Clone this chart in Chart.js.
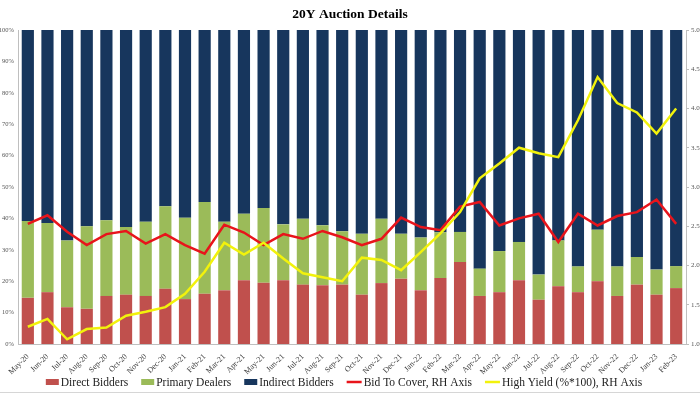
<!DOCTYPE html>
<html><head><meta charset="utf-8">
<script src="https://cdn.jsdelivr.net/npm/chart.js@4/dist/chart.umd.min.js"></script>
<style>html,body{margin:0;padding:0;background:#fff;}#wrap{width:700px;height:394px;position:relative;}</style>
</head><body><div id="wrap"><canvas id="c" width="700" height="394"></canvas></div>
<script>
const categories = ["May-20","Jun-20","Jul-20","Aug-20","Sep-20","Oct-20","Nov-20","Dec-20",
  "Jan-21","Feb-21","Mar-21","Apr-21","May-21","Jun-21","Jul-21","Aug-21","Sep-21","Oct-21","Nov-21","Dec-21",
  "Jan-22","Feb-22","Mar-22","Apr-22","May-22","Jun-22","Jul-22","Aug-22","Sep-22","Oct-22","Nov-22","Dec-22",
  "Jan-23","Feb-23"];
const directBidders = [14.7,16.5,11.7,11.2,15.3,15.7,15.3,17.6,14.3,16.0,17.1,20.3,19.5,20.3,18.9,18.7,18.9,15.7,19.4,20.8,17.1,21.0,26.1,15.3,16.5,20.3,14.1,18.4,16.5,20.0,15.3,18.9,15.7,17.8];
const primaryDealers = [24.5,22.0,21.3,26.3,24.1,21.6,23.6,26.3,25.9,29.2,21.8,21.2,23.8,17.8,21.0,19.1,17.0,19.4,20.5,14.3,16.8,14.6,9.6,8.7,13.1,12.2,8.0,14.6,8.2,16.4,9.4,8.8,8.0,7.0];
const indirectBidders = [60.8,61.5,67.0,62.5,60.6,62.7,61.1,56.1,59.8,54.8,61.1,58.5,56.7,61.9,60.1,62.2,64.1,64.9,60.1,64.9,66.1,64.4,64.3,76.0,70.4,67.5,77.9,67.0,75.3,63.6,75.3,72.3,76.3,75.2];
const bidToCover = [2.53,2.64,2.43,2.26,2.40,2.44,2.28,2.40,2.26,2.15,2.52,2.42,2.26,2.40,2.34,2.44,2.36,2.26,2.34,2.61,2.49,2.45,2.75,2.81,2.51,2.60,2.66,2.30,2.66,2.51,2.63,2.68,2.84,2.53];
const highYield = [1.22,1.32,1.06,1.19,1.21,1.36,1.41,1.47,1.64,1.92,2.29,2.14,2.29,2.09,1.90,1.85,1.80,2.10,2.07,1.94,2.17,2.41,2.68,3.11,3.30,3.50,3.43,3.38,3.85,4.40,4.07,3.95,3.68,4.00];

const legendPlugin = {
  id: 'customLegend',
  afterDraw(chart) {
    const ctx = chart.ctx;
    ctx.save();
    ctx.font = '11.5px "Liberation Serif"';
    ctx.textBaseline = 'middle';
    const items = chart.data.datasets.map(ds => ({
      label: ds.label,
      color: ds.type === 'line' ? ds.borderColor : ds.backgroundColor,
      isLine: ds.type === 'line'
    }));
    const boxW = 13, lineW = 15, gapBT = 2, gapItem = 13;
    const ws = items.map(it => (it.isLine ? lineW : boxW) + gapBT + ctx.measureText(it.label).width);
    const total = ws.reduce((a, b) => a + b, 0) + gapItem * (items.length - 1);
    let x = 344 - total / 2;
    const y = 382;
    items.forEach((it, i) => {
      if (it.isLine) {
        ctx.strokeStyle = it.color; ctx.lineWidth = 2.5;
        ctx.beginPath(); ctx.moveTo(x, y); ctx.lineTo(x + lineW, y); ctx.stroke();
        x += lineW + gapBT;
      } else {
        ctx.fillStyle = it.color;
        ctx.fillRect(x, y - 3, boxW, 6);
        x += boxW + gapBT;
      }
      ctx.fillStyle = '#222';
      ctx.fillText(it.label, x, y + 0.5);
      x += ctx.measureText(it.label).width + gapItem;
    });
    ctx.strokeStyle = '#D6D6D6'; ctx.lineWidth = 1;
    ctx.beginPath(); ctx.moveTo(0, 392.5); ctx.lineTo(700, 392.5); ctx.stroke();
    ctx.restore();
  }
};

const tickFont = { family: '"Liberation Serif"', size: 7 };

new Chart(document.getElementById('c'), {
  data: {
    labels: categories,
    datasets: [
      { type: 'bar', label: 'Direct Bidders', data: directBidders, backgroundColor: '#C0504D', yAxisID: 'y', order: 2, barPercentage: 0.62, categoryPercentage: 1 },
      { type: 'bar', label: 'Primary Dealers', data: primaryDealers, backgroundColor: '#9BBB59', yAxisID: 'y', order: 2, barPercentage: 0.62, categoryPercentage: 1 },
      { type: 'bar', label: 'Indirect Bidders', data: indirectBidders, backgroundColor: '#17365D', yAxisID: 'y', order: 2, barPercentage: 0.62, categoryPercentage: 1 },
      { type: 'line', label: 'Bid To Cover, RH Axis', data: bidToCover, borderColor: '#E8141B', borderWidth: 2.5, pointRadius: 0, tension: 0, yAxisID: 'y1', order: 1, stack: 'l1' },
      { type: 'line', label: 'High Yield (%*100), RH Axis', data: highYield, borderColor: '#F2F20C', borderWidth: 2.5, pointRadius: 0, tension: 0, yAxisID: 'y1', order: 0, stack: 'l2' }
    ]
  },
  options: {
    responsive: false,
    animation: false,
    devicePixelRatio: 1,
    layout: { padding: 0 },
    plugins: {
      legend: { display: false },
      tooltip: { enabled: false },
      title: {
        display: true, text: '20Y Auction Details', color: '#000',
        font: { family: '"Liberation Serif"', size: 13.5, weight: 'bold', lineHeight: 1.2 },
        padding: { top: 6, bottom: 7.8 }
      }
    },
    scales: {
      x: {
        stacked: true,
        grid: { display: false },
        border: { display: true, color: '#BFBFBF' },
        ticks: { autoSkip: false, minRotation: 45, maxRotation: 45, color: '#404040', font: { family: '"Liberation Serif"', size: 8 }, padding: 0 },
        afterFit(s) { s.height = 50; }
      },
      y: {
        position: 'left', stacked: true, min: 0, max: 100,
        grid: { display: false, drawTicks: false, tickLength: 0 },
        border: { display: true, color: '#BFBFBF' },
        ticks: { stepSize: 10, color: '#555', font: { family: '"Liberation Serif"', size: 6.5 }, padding: 4, callback: v => v + '%' },
        afterFit(s) { s.width = 18; }
      },
      y1: {
        position: 'right', stacked: false, min: 1, max: 5,
        grid: { drawOnChartArea: false, drawTicks: true, tickLength: 3, color: '#BFBFBF' },
        border: { display: true, color: '#BFBFBF' },
        ticks: { stepSize: 0.5, color: '#555', font: tickFont, padding: 2, callback: v => Number(v).toFixed(2) },
        afterFit(s) { s.width = 14; }
      }
    }
  },
  plugins: [legendPlugin]
});
</script>
</body></html>
